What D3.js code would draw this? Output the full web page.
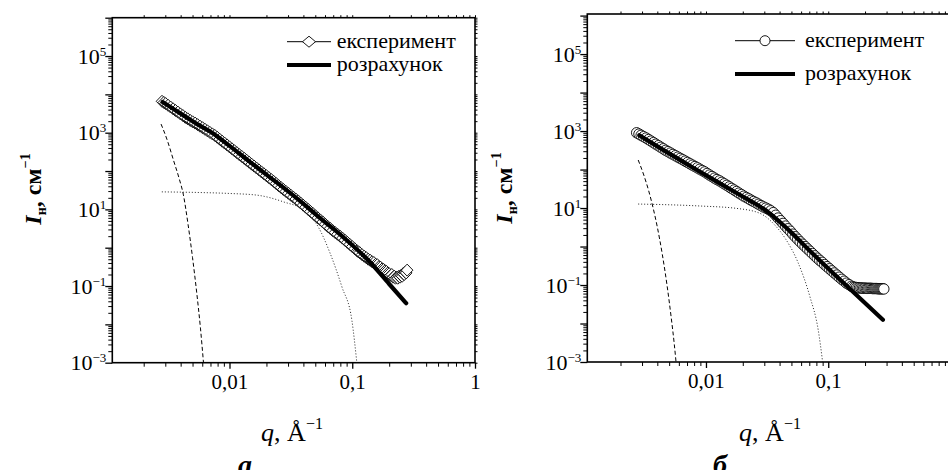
<!DOCTYPE html>
<html><head><meta charset="utf-8">
<script src="https://cdn.jsdelivr.net/npm/d3@7"></script>
<style>
body{margin:0;background:#fff}
svg{display:block}
text{font-family:"Liberation Serif","Times New Roman",serif;fill:#000}
</style>
</head><body>
<svg id="c" width="948" height="470"></svg>
<script>
// ---------- DATA ----------
// tick labels
const xTickValues = [0.01, 0.1, 1];
const xTickLabels = ["0,01", "0,1", "1"];
const yTickValues = [1e-3, 1e-1, 1e1, 1e3, 1e5];
const yTickExps = ["−3", "−1", "1", "3", "5"];
const legendLabels = ["експеримент", "розрахунок"];
const panelLetters = ["а", "б"];

// panel а : experiment (diamonds)
const expQ_a = [0.00282,0.00292,0.00302,0.00316,0.00331,0.00347,0.00363,0.00380,0.00398,0.00417,
  0.00437,0.00457,0.00479,0.00501,0.00525,0.0055,0.00575,0.00603,0.00631,0.00661,
  0.00692,0.00725,0.00759,0.00795,0.00832,0.00871,0.00912,0.00955,0.0100,0.01047,
  0.01096,0.01148,0.0120,0.0126,0.0132,0.0138,0.01445,0.01514,0.01585,0.0166,
  0.01738,0.0182,0.01905,0.01995,0.0209,0.0219,0.0229,0.024,0.0251,0.0263,
  0.0275,0.0288,0.0302,0.0316,0.0331,0.0347,0.0363,0.038,0.0398,0.0417,
  0.0437,0.0457,0.0479,0.0501,0.0525,0.055,0.0575,0.0603,0.0631,0.0661,
  0.0692,0.0725,0.0759,0.0795,0.0832,0.0871,0.0912,0.0955,0.100,0.1047,0.1096,0.112,
  0.115,0.120,0.125,0.130,0.135,0.140,0.145,0.150,0.155,0.160,0.165,0.170,0.175,0.180,
  0.185,0.190,0.195,0.200,0.205,0.210,0.215,0.220,0.225,0.230,0.235,0.240,0.245,0.250,
  0.255,0.260,0.265,0.270,0.275,0.280];
const expI_a = [6600,6150,5750,5200,4680,4200,3800,3450,3090,2800,
  2510,2300,2090,1920,1780,1620,1480,1350,1230,1120,
  1020,930,850,760,676,600,537,480,427,380,
  339,302,269,240,214,191,170,151,135,120,
  107,95,85,76,67.6,60,53.7,47.3,41.7,37.2,
  33.1,29.5,26.3,23.4,20.9,18.6,16.6,14.6,12.9,11.4,
  10.0,8.8,7.8,6.8,6.0,5.3,4.7,4.1,3.6,3.2,
  2.8,2.5,2.24,2.0,1.78,1.57,1.38,1.22,1.07,0.94,0.83,0.78,
  0.74,0.66,0.60,0.55,0.50,0.47,0.43,0.41,0.37,0.36,0.32,0.31,0.28,0.27,
  0.25,0.24,0.22,0.21,0.19,0.20,0.17,0.18,0.16,0.17,0.16,0.18,0.17,0.19,
  0.18,0.21,0.20,0.23,0.22,0.26];
// panel а : calculation (thick line)
const fitQ_a = [0.00285,0.0035,0.00444,0.0055,0.00736,0.01,0.01475,0.02,0.0259,0.0377,0.0548,0.0845,0.14,0.2,0.275];
const fitI_a = [6300,4140,2550,1650,960,454,171,80.7,42.8,16.4,5.9,1.88,0.417,0.113,0.0356];
// panel а : component curves
const dashQ_a = [0.00277,0.0031,0.0035,0.0039,0.0042,0.0046,0.005,0.0054,0.0058,0.00614];
const dashI_a = [1680,660,190,62,25,4.0,0.55,0.07,0.008,0.001];
const dotQ_a = [0.00281,0.00577,0.01,0.01675,0.0275,0.0401,0.0528,0.0661,0.0824,0.0993,0.109];
const dotI_a = [28.6,27.5,26,23.5,15.7,9.5,3.5,0.71,0.095,0.0128,0.001];

// panel б : experiment (circles)
const expQ_b = [0.00271,0.00283,0.00295,0.00309,0.00324,0.00339,0.00355,0.00372,0.00389,0.00408,
  0.00427,0.00447,0.00468,0.0049,0.00513,0.00537,0.00562,0.00589,0.00617,0.00646,
  0.00676,0.00708,0.00741,0.00776,0.00813,0.00851,0.00891,0.00933,0.00977,0.01022,
  0.0107,0.0112,0.01175,0.0123,0.0129,0.0135,0.0141,0.0148,0.0155,0.0162,
  0.0170,0.0178,0.0186,0.0195,0.0204,0.0214,0.0224,0.0234,0.0245,0.0257,
  0.0269,0.0282,0.0295,0.0309,0.0324,0.0339,0.0355,0.0372,0.0389,0.0408,
  0.0427,0.0447,0.0468,0.049,0.0513,0.0537,0.0562,0.0589,0.0617,0.0646,
  0.0676,0.0708,0.0741,0.0776,0.0813,0.0851,0.0891,0.0933,0.0977,0.1022,
  0.107,0.112,0.1175,0.123,0.129,0.135,0.141,0.148,0.155,
  0.160,0.165,0.170,0.175,0.180,0.185,0.190,0.195,0.200,0.205,0.210,0.215,0.220,
  0.225,0.230,0.235,0.240,0.245,0.250,0.255,0.260,0.265,0.270,0.275,0.280,0.285];
const expI_b = [904,838,776,716,661,603,550,501,457,417,
  380,347,316,292,269,248,229,211,195,180,
  166,153,141,130,120,111,102,94,87,79,
  72,66,60,55,51,46.7,42.7,39,35.5,32.4,
  29.5,26.9,24.5,22.4,20.4,18.8,17.4,16.0,14.8,13.7,
  12.6,11.6,10.7,10.0,9.3,8.5,7.6,6.5,5.5,4.7,
  4.0,3.4,2.9,2.5,2.1,1.8,1.55,1.33,1.15,1.0,
  0.87,0.76,0.66,0.575,0.50,0.44,0.39,0.34,0.30,0.265,
  0.234,0.206,0.182,0.16,0.141,0.126,0.112,0.102,0.093,
  0.089,0.087,0.086,0.085,0.084,0.084,0.083,0.083,0.083,0.082,0.082,0.082,0.082,
  0.082,0.081,0.081,0.081,0.081,0.081,0.080,0.080,0.080,0.080,0.080,0.080,0.079];
// panel б : calculation
const fitQ_b = [0.00285,0.0045,0.0075,0.0125,0.02,0.027,0.033,0.04,0.05,0.065,0.09,0.15,0.28];
const fitI_b = [780,320,122,47,20,11.5,7.4,4.4,2.3,1.0,0.37,0.080,0.0125];
// panel б : component curves
const dashQ_b = [0.00279,0.0031,0.0034,0.0037,0.004,0.0044,0.0048,0.0052,0.0055,0.00569];
const dashI_b = [177,72,28,9.9,3.2,0.61,0.1,0.014,0.003,0.001];
const dotQ_b = [0.00279,0.00893,0.0178,0.0276,0.0366,0.0443,0.0569,0.0708,0.0828,0.090];
const dotI_b = [12.7,11.3,9.8,7.3,3.6,1.66,0.37,0.05,0.0068,0.001];

// ---------- LAYOUT ----------
const panels = [
  {xd:[0.00111,1], xr:[112.3,475], yd:[1e-3,1e6], yr:[362.7,17.7],
   exp:[expQ_a,expI_a], fit:[fitQ_a,fitI_a], dash:[dashQ_a,dashI_a], dot:[dotQ_a,dotI_a],
   marker:"diamond", leg:{x0:287,x1:331,y1:41.7,y2:65,tx:336.7,t1:47.5,t2:71},
   yTitleX:41, yTitleY:189, xTitleX:292, letterX:245},
  {xd:[0.00107,1], xr:[587.3,950.5], yd:[1e-3,1.1e6], yr:[362,14],
   exp:[expQ_b,expI_b], fit:[fitQ_b,fitI_b], dash:[dashQ_b,dashI_b], dot:[dotQ_b,dotI_b],
   marker:"circle", leg:{x0:735,x1:795,y1:40.7,y2:74,tx:805,t1:46.5,t2:80},
   yTitleX:512, yTitleY:188, xTitleX:770, letterX:720}
];

const svg = d3.select("#c");
const FONT = "Liberation Serif";
const diamondPath = "M0,-6L5.8,0L0,6L-5.8,0Z";

function minorValues(lo, hi, nLo, nHi){
  const out = [];
  for(let n=nLo;n<=nHi;n++) for(let k=2;k<=9;k++){const v=k*Math.pow(10,n); if(v>=lo&&v<=hi) out.push(v);}
  return out;
}
function decadeValues(lo, hi, nLo, nHi){
  const out=[]; for(let n=nLo;n<=nHi;n++){const v=Math.pow(10,n); if(v>=lo&&v<=hi) out.push(v);} return out;
}

panels.forEach((p, pi) => {
  const x = d3.scaleLog().domain(p.xd).range(p.xr);
  const y = d3.scaleLog().domain(p.yd).range(p.yr);
  const g = svg.append("g");
  const [X0, X1] = p.xr, [Y0, Y1] = p.yr; // Y0 bottom, Y1 top

  const xMin = minorValues(p.xd[0], p.xd[1], -3, 0);
  const xMaj = decadeValues(p.xd[0], p.xd[1], -3, 0);
  const yMin = minorValues(p.yd[0], p.yd[1], -3, 6);
  const yMaj = decadeValues(p.yd[0], p.yd[1], -3, 6);

  function styleAxis(sel, w, fs){
    sel.attr("font-family", FONT).attr("font-size", fs || 21);
    sel.select(".domain").remove();
    sel.selectAll(".tick line").attr("stroke", "#000").attr("stroke-width", w);
  }
  // bottom
  g.append("g").attr("transform", `translate(0,${Y0})`)
    .call(d3.axisBottom(x).tickValues(xMin).tickSize(4).tickSizeOuter(0).tickFormat(""))
    .call(s => styleAxis(s, 1));
  g.append("g").attr("transform", `translate(0,${Y0})`)
    .call(d3.axisBottom(x).tickValues(xTickValues).tickSize(6).tickSizeOuter(0).tickPadding(5)
      .tickFormat((d,i) => x(d) < 940 ? xTickLabels[i] : ""))
    .call(s => styleAxis(s, 1.3));
  // top
  g.append("g").attr("transform", `translate(0,${Y1})`)
    .call(d3.axisTop(x).tickValues(xMin.concat(xMaj)).tickSize(2.5).tickSizeOuter(0).tickFormat(""))
    .call(s => styleAxis(s, 1));
  // left
  g.append("g").attr("transform", `translate(${X0},0)`)
    .call(d3.axisLeft(y).tickValues(yMin).tickSize(4).tickSizeOuter(0).tickFormat(""))
    .call(s => styleAxis(s, 1));
  g.append("g").attr("transform", `translate(${X0},0)`)
    .call(d3.axisLeft(y).tickValues(yMaj).tickSize(7).tickSizeOuter(0).tickFormat(""))
    .call(s => styleAxis(s, 1.3));
  const yl = g.append("g").attr("transform", `translate(${X0},0)`)
    .call(d3.axisLeft(y).tickValues(yTickValues).tickSize(0).tickSizeOuter(0).tickPadding(6)
      .tickFormat((d,i) => "10"))
    .call(s => styleAxis(s, 1, 22));
  yl.selectAll(".tick text").each(function(d, i){
    const t = d3.select(this);
    t.text(null);
    t.append("tspan").text("10");
    t.append("tspan").attr("dy", "-8").attr("font-size", 13).text(yTickExps[i]);
  });
  // right
  g.append("g").attr("transform", `translate(${X1},0)`)
    .call(d3.axisRight(y).tickValues(yMin.concat(yMaj)).tickSize(2.5).tickSizeOuter(0).tickFormat(""))
    .call(s => styleAxis(s, 1));
  // frame
  g.append("rect").attr("x", X0).attr("y", Y1).attr("width", X1 - X0).attr("height", Y0 - Y1)
    .attr("fill", "none").attr("stroke", "#000").attr("stroke-width", 1.6);

  const line = d3.line().x(d => x(d[0])).y(d => y(d[1])).curve(d3.curveMonotoneX);
  const zip = (a, b) => a.map((v, i) => [v, b[i]]);

  // component curves
  g.append("path").attr("d", line(zip(p.dash[0], p.dash[1])))
    .attr("fill", "none").attr("stroke", "#000").attr("stroke-width", 1).attr("stroke-dasharray", "4,2.5");
  g.append("path").attr("d", line(zip(p.dot[0], p.dot[1])))
    .attr("fill", "none").attr("stroke", "#222").attr("stroke-width", 1).attr("stroke-dasharray", "1,2");

  // experiment markers
  const pts = zip(p.exp[0], p.exp[1]);
  if (p.marker === "diamond") {
    g.selectAll("path.m").data(pts).join("path").attr("class", "m")
      .attr("transform", d => `translate(${x(d[0])},${y(d[1])})`)
      .attr("d", diamondPath).attr("fill", "#fff").attr("stroke", "#000").attr("stroke-width", 0.9);
  } else {
    g.selectAll("circle.m").data(pts).join("circle").attr("class", "m")
      .attr("cx", d => x(d[0])).attr("cy", d => y(d[1])).attr("r", 5.2)
      .attr("fill", "#fff").attr("stroke", "#000").attr("stroke-width", 0.9);
  }
  // calculation
  g.append("path").attr("d", line(zip(p.fit[0], p.fit[1])))
    .attr("fill", "none").attr("stroke", "#000").attr("stroke-width", 4.2).attr("stroke-linecap", "round");

  // legend
  const L = p.leg;
  g.append("line").attr("x1", L.x0).attr("x2", L.x1).attr("y1", L.y1).attr("y2", L.y1)
    .attr("stroke", "#000").attr("stroke-width", 1);
  const lm = (L.x0 + L.x1) / 2;
  if (p.marker === "diamond") {
    g.append("path").attr("transform", `translate(${lm},${L.y1})`)
      .attr("d", "M0,-5.5L6.5,0L0,5.5L-6.5,0Z").attr("fill", "#fff").attr("stroke", "#000").attr("stroke-width", 0.9);
  } else {
    g.append("circle").attr("cx", lm).attr("cy", L.y1).attr("r", 5)
      .attr("fill", "#fff").attr("stroke", "#000").attr("stroke-width", 0.9);
  }
  g.append("line").attr("x1", L.x0).attr("x2", L.x1).attr("y1", L.y2).attr("y2", L.y2)
    .attr("stroke", "#000").attr("stroke-width", 4.2);
  g.append("text").attr("x", L.tx).attr("y", L.t1).attr("font-size", 22).text(legendLabels[0]);
  g.append("text").attr("x", L.tx).attr("y", L.t2).attr("font-size", 22).text(legendLabels[1]);

  // y title
  const yt = g.append("text").attr("transform", `translate(${p.yTitleX},${p.yTitleY}) rotate(-90)`)
    .attr("text-anchor", "middle").attr("font-size", 24).attr("font-weight", "bold");
  yt.append("tspan").attr("font-style", "italic").text("I");
  yt.append("tspan").attr("font-size", 14).attr("dy", 5).text("н");
  yt.append("tspan").attr("dy", -5).text(", см");
  yt.append("tspan").attr("font-size", 14).attr("dy", -11).text("−1");

  // x title
  const xt = g.append("text").attr("x", p.xTitleX).attr("y", 441).attr("text-anchor", "middle").attr("font-size", 26);
  xt.append("tspan").attr("font-style", "italic").text("q");
  xt.append("tspan").text(", Å");
  xt.append("tspan").attr("font-size", 16).attr("dy", -12).text("−1");

  // panel letter
  g.append("text").attr("x", p.letterX).attr("y", 474).attr("text-anchor", "middle")
    .attr("font-size", 28).attr("font-style", "italic").attr("font-weight", "bold").text(panelLetters[pi]);
});
</script>
</body></html>
